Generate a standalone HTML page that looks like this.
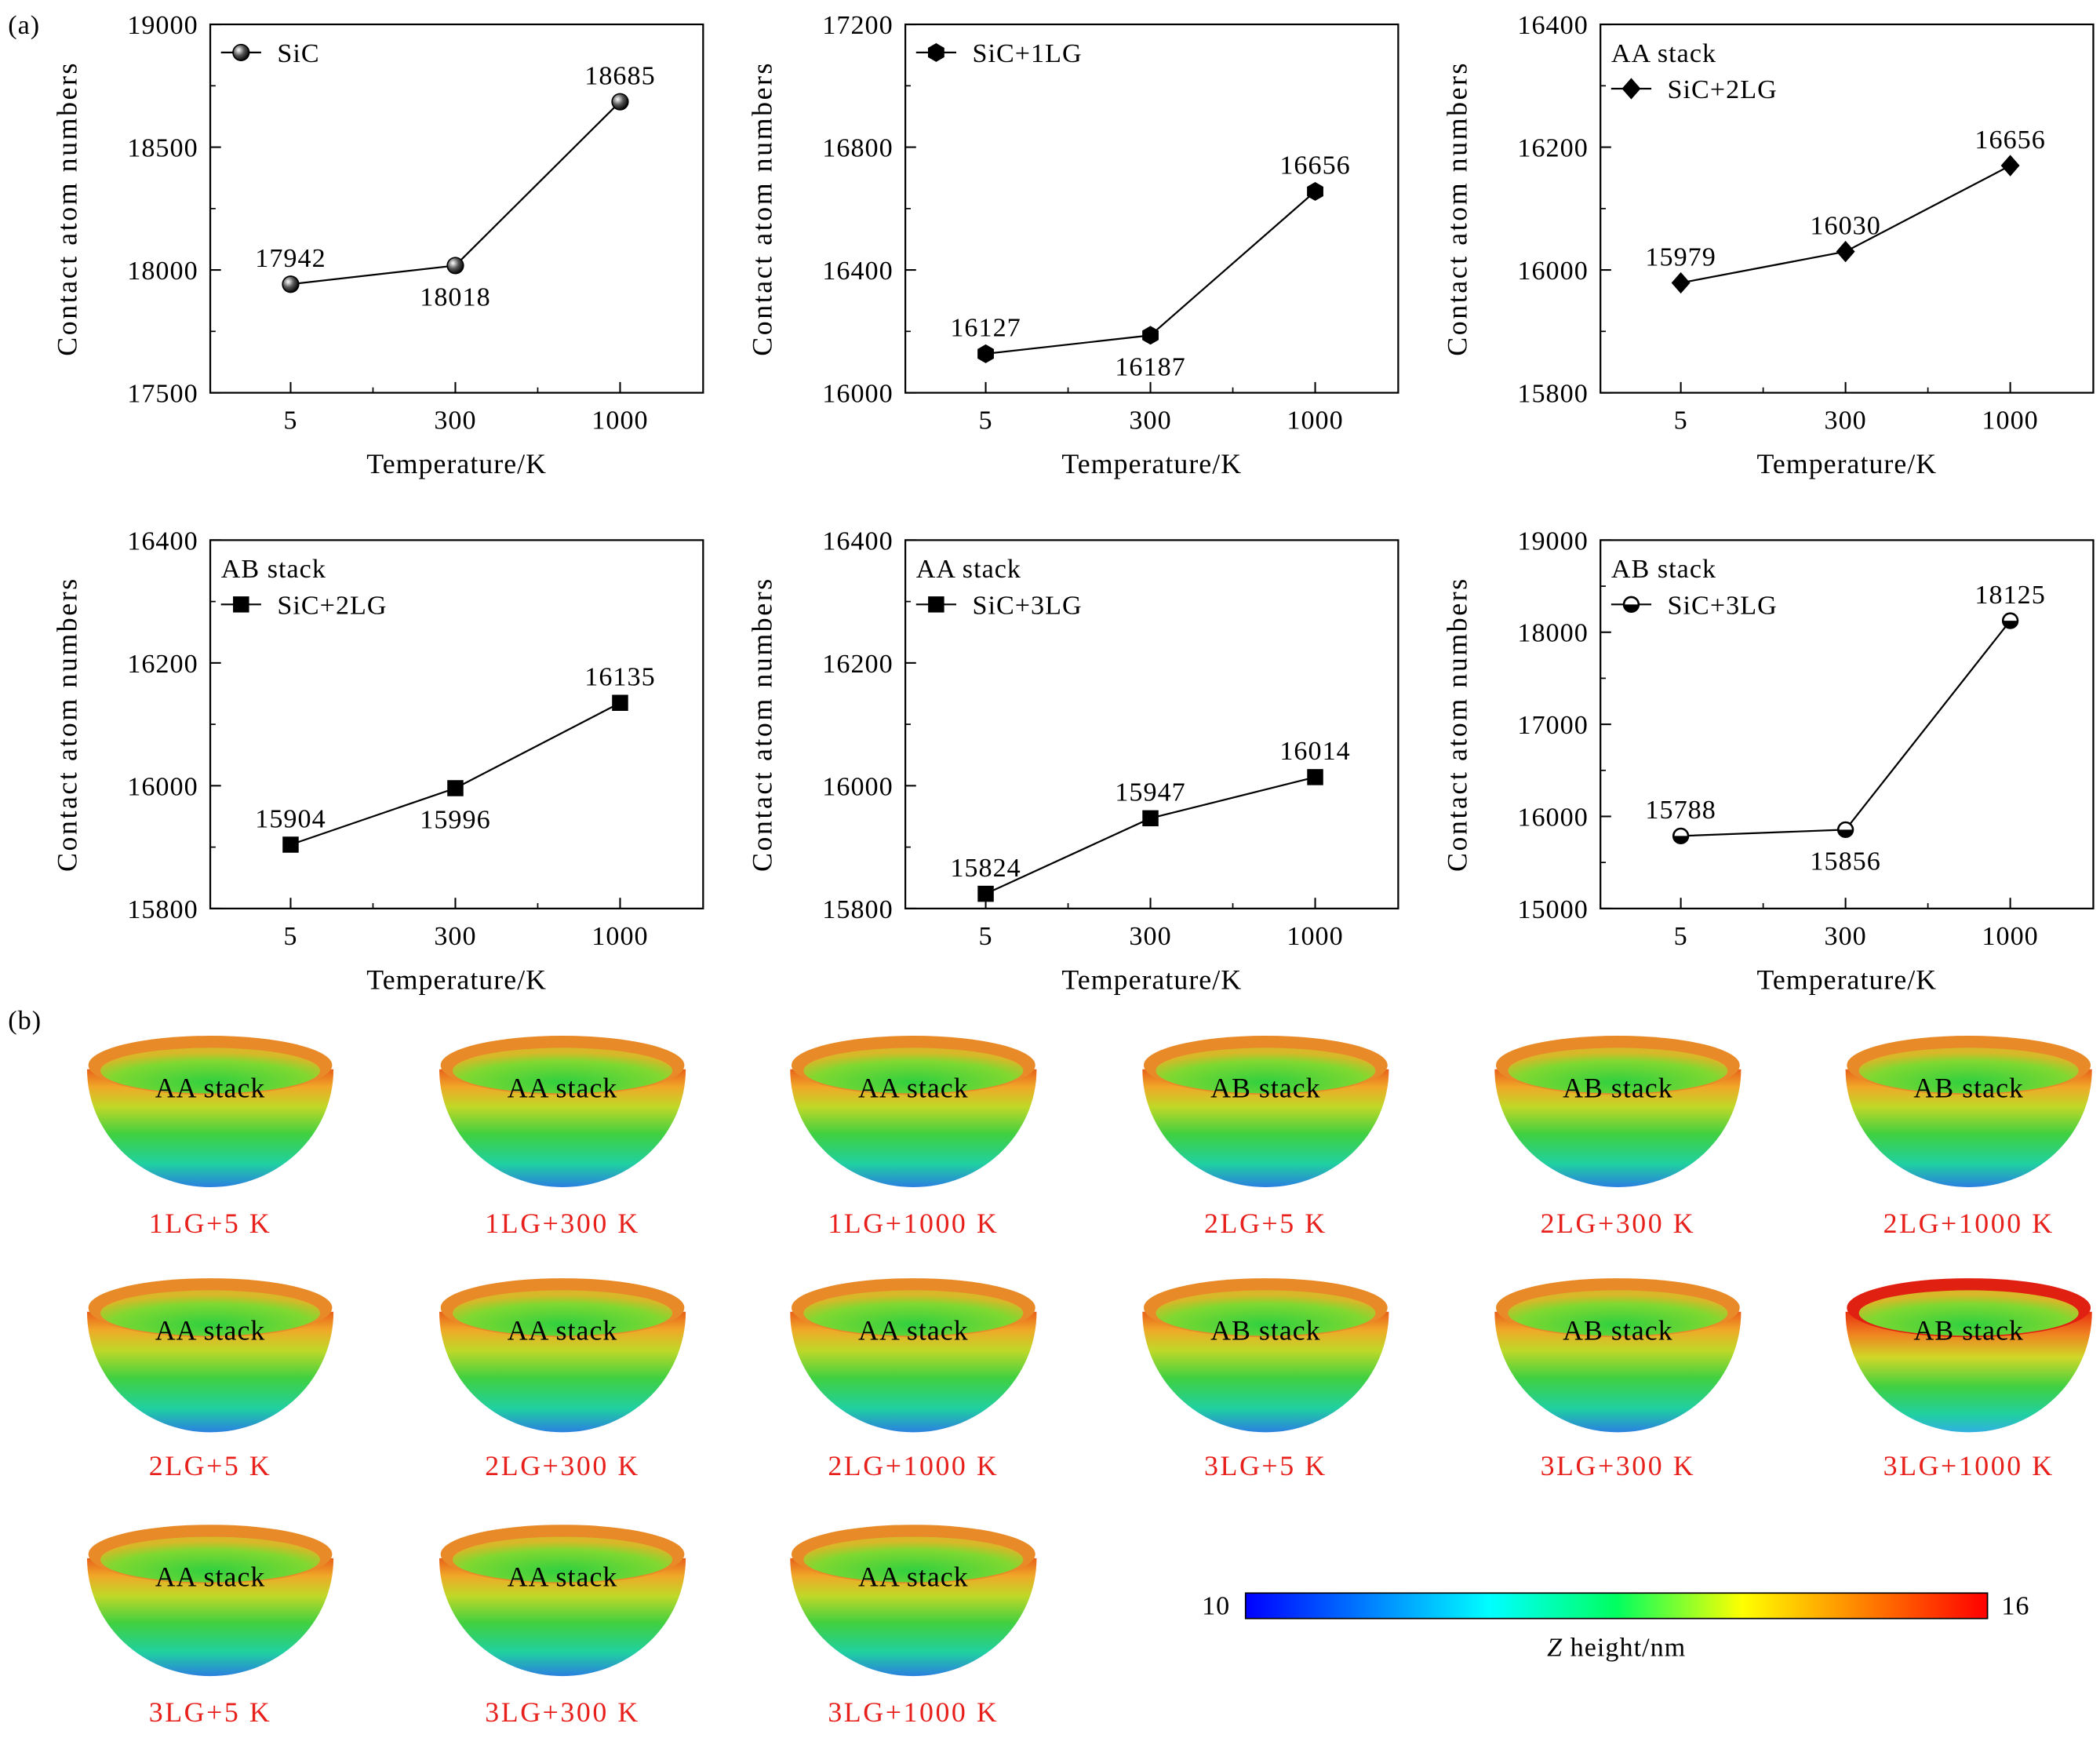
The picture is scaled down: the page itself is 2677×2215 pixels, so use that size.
<!DOCTYPE html>
<html><head><meta charset="utf-8"><style>
html,body{margin:0;padding:0;background:#fff}
svg{display:block}
svg text{font-family:"Liberation Serif",serif !important;fill:#000;letter-spacing:0.6px}
</style></head><body>
<svg id="fig" width="2677" height="2215" viewBox="0 0 1568 1297" xmlns="http://www.w3.org/2000/svg" font-family="Liberation Serif, serif">
<defs>
<radialGradient id="sph" cx="0.35" cy="0.35" r="0.7"><stop offset="0" stop-color="#fff"/><stop offset="0.5" stop-color="#555"/><stop offset="1" stop-color="#000"/></radialGradient>
<linearGradient id="bowlg" x1="0" y1="0" x2="0" y2="1"><stop offset="0" stop-color="#e8601a"/><stop offset="0.15" stop-color="#f0a828"/><stop offset="0.32" stop-color="#c0d828"/><stop offset="0.55" stop-color="#40d040"/><stop offset="0.8" stop-color="#20d0a0"/><stop offset="1" stop-color="#2a80e0"/></linearGradient>
<linearGradient id="bowlg2" x1="0" y1="0" x2="0" y2="1"><stop offset="0" stop-color="#e83010"/><stop offset="0.18" stop-color="#f08020"/><stop offset="0.38" stop-color="#d0d828"/><stop offset="0.62" stop-color="#40d040"/><stop offset="0.85" stop-color="#20d0a0"/><stop offset="1" stop-color="#30b0e0"/></linearGradient>
<radialGradient id="inner" cx="0.5" cy="0.75" r="0.65"><stop offset="0" stop-color="#30d040"/><stop offset="0.7" stop-color="#80d830"/><stop offset="1" stop-color="#d8b828"/></radialGradient>
<linearGradient id="cbar" x1="0" y1="0" x2="1" y2="0"><stop offset="0" stop-color="#0000ff"/><stop offset="0.33" stop-color="#00ffff"/><stop offset="0.5" stop-color="#00ff60"/><stop offset="0.67" stop-color="#ffff00"/><stop offset="1" stop-color="#ff0000"/></linearGradient>
</defs>
<text x="6" y="25" font-size="20">(a)</text>
<text x="6" y="768" font-size="20">(b)</text>
<g id="charts"></g>
<g id="bowls"></g>
<rect x="930" y="1189" width="554" height="19" fill="url(#cbar)" stroke="#000" stroke-width="1"/>
<text x="908" y="1205" font-size="20" text-anchor="middle">10</text>
<text x="1505" y="1205" font-size="20" text-anchor="middle">16</text>
<text x="1207" y="1236" font-size="20" text-anchor="middle"><tspan font-style="italic">Z</tspan> height/nm</text>
</svg>
<script>
const NS="http://www.w3.org/2000/svg";
const categories=["5","300","1000"];
const vSiC=[17942,18018,18685];
const v1LG=[16127,16187,16656];
const vAA2=[15979,16030,16170];
const lAA2=["15979","16030","16656"];
const vAB2=[15904,15996,16135];
const vAA3=[15824,15947,16014];
const vAB3=[15788,15856,18125];
const ticks1=[17500,18000,18500,19000];
const ticks2=[16000,16400,16800,17200];
const ticks3=[15800,16000,16200,16400];
const ticks6=[15000,16000,17000,18000,19000];
const panels=[
 {col:0,row:0,vals:vSiC,labels:null,ticks:ticks1,marker:"sphere",leg:"SiC",stack:null,pos:[-1,1,-1],name:"sic"},
 {col:1,row:0,vals:v1LG,labels:null,ticks:ticks2,marker:"hex",leg:"SiC+1LG",stack:null,pos:[-1,1,-1],name:"sic-1lg"},
 {col:2,row:0,vals:vAA2,labels:lAA2,ticks:ticks3,marker:"diamond",leg:"SiC+2LG",stack:"AA stack",pos:[-1,-1,-1],name:"aa-2lg"},
 {col:0,row:1,vals:vAB2,labels:null,ticks:ticks3,marker:"square",leg:"SiC+2LG",stack:"AB stack",pos:[-1,1,-1],name:"ab-2lg"},
 {col:1,row:1,vals:vAA3,labels:null,ticks:ticks3,marker:"square",leg:"SiC+3LG",stack:"AA stack",pos:[-1,-1,-1],name:"aa-3lg"},
 {col:2,row:1,vals:vAB3,labels:null,ticks:ticks6,marker:"half",leg:"SiC+3LG",stack:"AB stack",pos:[-1,1,-1],name:"ab-3lg"}
];
function el(t,a,p){const e=document.createElementNS(NS,t);for(const k in a)e.setAttribute(k,a[k]);p.appendChild(e);return e;}
function marker(type,x,y,g){
 if(type==="sphere")return el("circle",{cx:x,cy:y,r:6,fill:"url(#sph)",stroke:"#000","stroke-width":1},g);
 if(type==="hex"){let p=[];for(let i=0;i<6;i++){const a=Math.PI/3*i+Math.PI/6;p.push((x+7*Math.cos(a)).toFixed(1)+","+(y+7*Math.sin(a)).toFixed(1));}return el("polygon",{points:p.join(" "),fill:"#000"},g);}
 if(type==="diamond")return el("polygon",{points:`${x},${y-8} ${x+7},${y} ${x},${y+8} ${x-7},${y}`,fill:"#000"},g);
 if(type==="square")return el("rect",{x:x-6,y:y-6,width:12,height:12,fill:"#000"},g);
 const gg=el("g",{},g);
 el("circle",{cx:x,cy:y,r:5.5,fill:"#fff",stroke:"#000","stroke-width":1.5},gg);
 el("path",{d:`M${x-5.5},${y} A5.5,5.5 0 0 0 ${x+5.5},${y} Z`,fill:"#000"},gg);
 return gg;
}
const root=document.getElementById("charts");
panels.forEach(P=>{
 const L=157+P.col*519,R=L+368,T=18+P.row*385,B=T+275;
 const g=el("g",{},root);
 
 
 const ymin=P.ticks[0],ymax=P.ticks[P.ticks.length-1];
 const ys=v=>B-(v-ymin)/(ymax-ymin)*(B-T);
 const xs=i=>L+60+i*123;
 const box=el("rect",{x:L,y:T,width:R-L,height:B-T,fill:"none",stroke:"#000","stroke-width":1.3},g);
 
 
 P.ticks.forEach((t,i)=>{
  const y=ys(t);
  el("line",{x1:L,y1:y,x2:L+8,y2:y,stroke:"#000","stroke-width":1.2},g);
  if(i<P.ticks.length-1){const ym=ys((t+P.ticks[i+1])/2);el("line",{x1:L,y1:ym,x2:L+4,y2:ym,stroke:"#000","stroke-width":1},g);}
  const tx=el("text",{x:L-9,y:y+7,"font-size":20,"text-anchor":"end"},g);tx.textContent=t;
  
  
 });
 categories.forEach((c,i)=>{
  const x=xs(i);
  el("line",{x1:x,y1:B,x2:x,y2:B-8,stroke:"#000","stroke-width":1.2},g);
  if(i<2)el("line",{x1:x+61.5,y1:B,x2:x+61.5,y2:B-4,stroke:"#000","stroke-width":1},g);
  const tx=el("text",{x:x,y:B+27,"font-size":20,"text-anchor":"middle"},g);tx.textContent=c;
  
  
 });
 const xt=el("text",{x:(L+R)/2,y:B+60,"font-size":21,"text-anchor":"middle"},g);xt.textContent="Temperature/K";
 
 
 const yt=el("text",{x:0,y:0,"font-size":21,"text-anchor":"middle",transform:`translate(${L-100},${(T+B)/2}) rotate(-90)`,style:"letter-spacing:1.5px"},g);yt.textContent="Contact atom numbers";
 
 
 const pts=P.vals.map((v,i)=>xs(i)+","+ys(v)).join(" ");
 const ln=el("polyline",{points:pts,fill:"none",stroke:"#000","stroke-width":1.3},g);
 
 
 P.vals.forEach((v,i)=>{
  const m=marker(P.marker,xs(i),ys(v),g);
  
  
  const lab=el("text",{x:xs(i),y:ys(v)+(P.pos[i]<0?-13:30),"font-size":20,"text-anchor":"middle"},g);
  lab.textContent=P.labels?P.labels[i]:v;
  
  
 });
 let ly=T+21;
 if(P.stack){const st=el("text",{x:L+8,y:ly+7,"font-size":20},g);st.textContent=P.stack;
  
  
  ly+=27;}
 const lg=el("g",{},g);
 
 
 el("line",{x1:L+8,y1:ly,x2:L+38,y2:ly,stroke:"#000","stroke-width":1.3},lg);
 marker(P.marker,L+23,ly,lg);
 const lt=el("text",{x:L+50,y:ly+7,"font-size":20},lg);lt.textContent=P.leg;
});
const bowlCols=[157,420,682,945,1208,1470];
const bowlRows=[{y:800,l:913,h:88},{y:981,l:1094,h:90},{y:1165,l:1278,h:88}];
const bowls=[
["AA stack","1LG+5 K"],["AA stack","1LG+300 K"],["AA stack","1LG+1000 K"],["AB stack","2LG+5 K"],["AB stack","2LG+300 K"],["AB stack","2LG+1000 K"],
["AA stack","2LG+5 K"],["AA stack","2LG+300 K"],["AA stack","2LG+1000 K"],["AB stack","3LG+5 K"],["AB stack","3LG+300 K"],["AB stack","3LG+1000 K"],
["AA stack","3LG+5 K"],["AA stack","3LG+300 K"],["AA stack","3LG+1000 K"]];
const bg=document.getElementById("bowls");
bowls.forEach((b,k)=>{
 const cx=bowlCols[k%6],row=bowlRows[Math.floor(k/6)],cy=row.y;
 const g=el("g",{},bg);
 
 
 const red=(k===11);
 el("path",{d:`M${cx-92},${cy-2} A92,${row.h} 0 0 0 ${cx+92},${cy-2} Z`,fill:red?"url(#bowlg2)":"url(#bowlg)"},g);
 el("ellipse",{cx:cx,cy:cy-5,rx:91,ry:22,fill:red?"#e02010":"#e98a28"},g);
 el("ellipse",{cx:cx,cy:cy-1,rx:82,ry:17,fill:"url(#inner)"},g);
 const t=el("text",{x:cx,y:cy+19,"font-size":21,"text-anchor":"middle"},g);t.textContent=b[0];
 const l=el("text",{x:cx,y:row.l+7,"font-size":21,"text-anchor":"middle",style:"fill:#e8201c;letter-spacing:1.5px"},g);l.textContent=b[1];
});
</script>
</body></html>
